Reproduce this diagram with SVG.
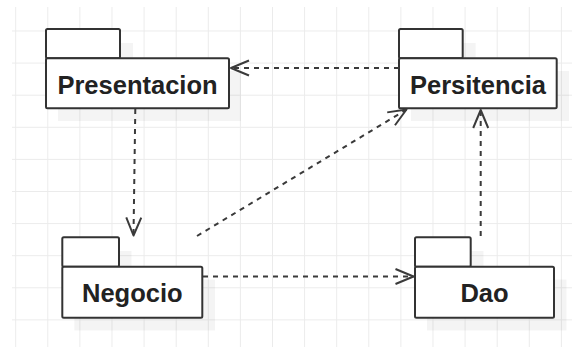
<svg xmlns="http://www.w3.org/2000/svg" width="581" height="355" viewBox="0 0 581 355">
  <style>
    .pkg { fill: #ffffff; stroke: #333333; stroke-width: 2; stroke-linejoin: round; }
    .shadow { fill: #000000; fill-opacity: 0.045; stroke: none; }
    .label { font-family: "Liberation Sans", Arial, sans-serif; font-weight: bold; font-size: 25.5px; fill: #222222; text-anchor: middle; }
    .dep { fill: none; stroke: #3a3a3a; stroke-width: 2; stroke-dasharray: 5 5; }
  </style>
  <defs>
    <pattern id="grid" x="15.2" y="30.5" width="32.1" height="32.1" patternUnits="userSpaceOnUse">
      <path d="M0.5 0 V32.1 M0 0.5 H32.1" fill="none" stroke="#ebebeb" stroke-width="1"/>
    </pattern>
    <marker id="open" markerUnits="userSpaceOnUse" markerWidth="24" markerHeight="20" viewBox="-20 -10 24 20" refX="0" refY="0" orient="auto">
      <path d="M -18 -7.5 L 0 0 L -18 7.5" fill="none" stroke="#3a3a3a" stroke-width="2" stroke-linejoin="round"/>
    </marker>
  </defs>

  <!-- background grid -->
  <rect x="0" y="0" width="581" height="355" fill="#ffffff"/>
  <rect x="12" y="7" width="560" height="340" fill="url(#grid)"/>

  <!-- packages -->
  <g id="presentacion">
    <path class="shadow" d="M58 43 H133 V71 H241 V121 H58 Z"/>
    <rect class="pkg" x="46" y="29" width="74" height="29.3" rx="1.5"/>
    <rect class="pkg" x="46" y="58.3" width="183" height="50" rx="1.5"/>
    <text class="label" x="137.5" y="93.5">Presentacion</text>
  </g>

  <g id="persitencia">
    <path class="shadow" d="M411 43 H475.7 V71 H569 V121 H411 Z"/>
    <rect class="pkg" x="399" y="29" width="63.7" height="29.3" rx="1.5"/>
    <rect class="pkg" x="399" y="58.3" width="157.7" height="50" rx="1.5"/>
    <text class="label" x="478" y="93.5">Persitencia</text>
  </g>

  <g id="negocio">
    <path class="shadow" d="M74.3 251 H131.5 V279.5 H215 V330.5 H74.3 Z"/>
    <rect class="pkg" x="62.3" y="237.3" width="56.7" height="29.4" rx="1.5"/>
    <rect class="pkg" x="62.3" y="266.7" width="140" height="51" rx="1.5"/>
    <text class="label" x="132.3" y="301.5">Negocio</text>
  </g>

  <g id="dao">
    <path class="shadow" d="M427 251 H483.5 V279.5 H566.5 V330.5 H427 Z"/>
    <rect class="pkg" x="415" y="237.3" width="55.7" height="29.4" rx="1.5"/>
    <rect class="pkg" x="415" y="266.7" width="139" height="51" rx="1.5"/>
    <text class="label" x="484.5" y="301.5">Dao</text>
  </g>

  <!-- dependency connectors -->
  <g id="connectors">
    <path class="dep" d="M399 68 H231" marker-end="url(#open)"/>
    <path class="dep" d="M135.3 109 L133.5 235.5" marker-end="url(#open)"/>
    <path class="dep" d="M197 236 L406.5 109.5" marker-end="url(#open)"/>
    <path class="dep" d="M203 276.5 H413.5" marker-end="url(#open)"/>
    <path class="dep" d="M480.7 236 V110" marker-end="url(#open)"/>
  </g>
</svg>
